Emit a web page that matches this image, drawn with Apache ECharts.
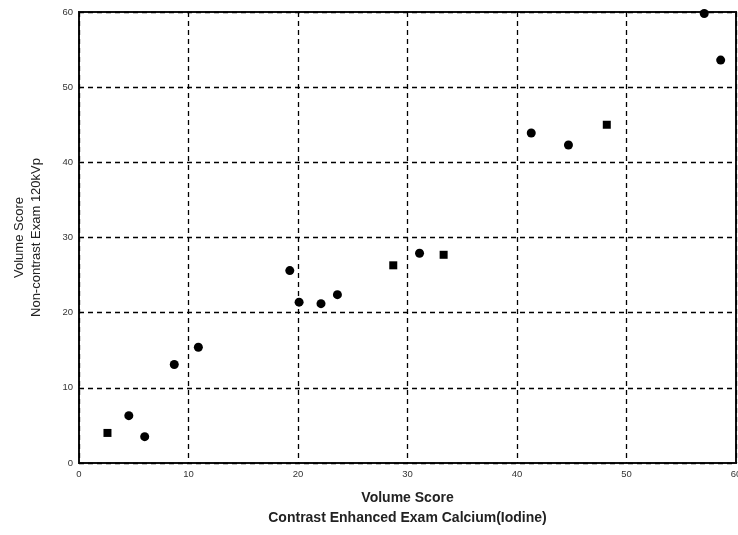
<!DOCTYPE html>
<html>
<head>
<meta charset="utf-8">
<script src="https://cdn.jsdelivr.net/npm/echarts@6/dist/echarts.min.js"></script>
<style>html,body{margin:0;padding:0;background:#fff}#c{width:738px;height:535px}</style>
</head>
<body>
<div id="c"></div>
<script>
// Data (x = contrast enhanced, y = non-contrast)
const squareX = [2.6, 28.7, 33.3, 48.2];
const squareY = [4.0, 26.3, 27.7, 45.0];
const roundX = [4.55, 6.0, 8.7, 10.9, 19.25, 20.1, 22.1, 23.6, 31.1, 41.3, 44.7, 57.1, 58.6];
const roundY = [6.3, 3.5, 13.1, 15.4, 25.6, 21.4, 21.2, 22.4, 27.9, 43.9, 42.3, 59.8, 53.6];
const xTicks = [0, 10, 20, 30, 40, 50, 60];
const yTicks = [0, 10, 20, 30, 40, 50, 60];
const xTitle = 'Volume Score\nContrast Enhanced Exam Calcium(Iodine)';
const yTitle = 'Volume Score\nNon-contrast Exam 120kVp';

const chart = echarts.init(document.getElementById('c'), null, {renderer: 'canvas'});
const pair = (xs, ys) => xs.map((x, i) => [x, ys[i]]);
const gridLine = {show: true, lineStyle: {color: '#000', width: 1.3, type: [5, 4]}};
chart.setOption({
  animation: false,
  backgroundColor: '#fff',
  grid: {left: 79, right: 2, top: 12, bottom: 72, containLabel: false, outerBoundsMode: 'none',
         show: true, borderColor: '#111', borderWidth: 2, backgroundColor: 'transparent'},
  xAxis: {
    type: 'value', min: xTicks[0], max: xTicks[xTicks.length - 1], interval: 10,
    name: xTitle, nameLocation: 'middle', nameGap: 25,
    nameTextStyle: {fontFamily: 'Liberation Sans', fontSize: 14, fontWeight: 'bold', color: '#222', lineHeight: 20},
    axisLine: {show: false}, axisTick: {show: false},
    axisLabel: {fontFamily: 'Liberation Sans', fontSize: 9.5, color: '#333', margin: 6},
    splitLine: gridLine
  },
  yAxis: {
    type: 'value', min: yTicks[0], max: yTicks[yTicks.length - 1], interval: 10,
    name: yTitle, nameLocation: 'middle', nameGap: 34,
    nameTextStyle: {fontFamily: 'Liberation Sans', fontSize: 13, color: '#222', lineHeight: 17},
    axisLine: {show: false}, axisTick: {show: false},
    axisLabel: {fontFamily: 'Liberation Sans', fontSize: 9.5, color: '#333', margin: 6},
    splitLine: gridLine
  },
  series: [
    {type: 'scatter', name: 'square', symbol: 'rect', symbolSize: 8, itemStyle: {color: '#000', opacity: 1}, data: pair(squareX, squareY)},
    {type: 'scatter', name: 'round', symbol: 'circle', symbolSize: 9, itemStyle: {color: '#000', opacity: 1}, data: pair(roundX, roundY)}
  ]
});
</script>
</body>
</html>
